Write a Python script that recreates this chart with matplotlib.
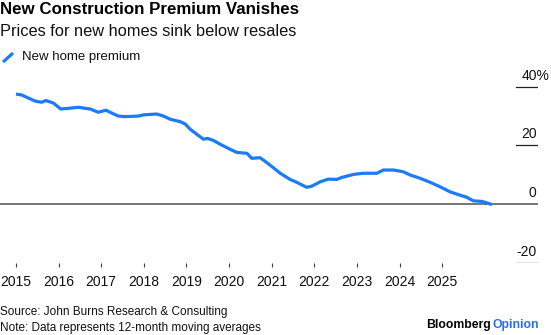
import matplotlib
matplotlib.use("Agg")
import matplotlib.pyplot as plt
import matplotlib.transforms as mtransforms

# New-home premium over resales (%), 12-month moving average
dates = [
    2015.00, 2015.13, 2015.25, 2015.45, 2015.60, 2015.70, 2015.88,
    2016.05, 2016.27, 2016.46, 2016.74, 2016.93,
    2017.11, 2017.25, 2017.40, 2017.56, 2017.87, 2017.99,
    2018.30, 2018.46, 2018.62, 2018.85, 2018.97,
    2019.08, 2019.24, 2019.40, 2019.49, 2019.63, 2019.79,
    2020.02, 2020.18, 2020.42, 2020.53, 2020.73, 2020.96,
    2021.20, 2021.43, 2021.59, 2021.82, 2021.94,
    2022.14, 2022.33, 2022.53, 2022.65, 2022.92,
    2023.15, 2023.31, 2023.47, 2023.62, 2023.86,
    2024.09, 2024.25, 2024.48, 2024.72, 2024.95,
    2025.18, 2025.34, 2025.58, 2025.73, 2025.93, 2026.05, 2026.17,
]
premium = [
    37.5, 37.2, 36.4, 35.1, 34.7, 35.3, 34.4,
    32.4, 32.7, 33.0, 32.4, 31.3,
    32.0, 31.0, 30.0, 29.8, 30.0, 30.4,
    30.7, 30.0, 28.9, 28.1, 27.3,
    25.6, 23.8, 22.1, 22.4, 21.7, 20.4,
    18.7, 17.6, 17.3, 15.6, 15.8, 13.3,
    10.5, 8.4, 7.4, 5.7, 6.1,
    7.6, 8.5, 8.4, 9.1, 10.1,
    10.5, 10.5, 10.5, 11.6, 11.6,
    11.0, 9.9, 8.8, 7.4, 5.9,
    4.2, 3.4, 2.3, 1.1, 0.9, 0.4, -0.2,
]
years = list(range(2015, 2026))
y_ticks = [40, 20, 0, -20]
y_labels = ["40%", "20", "0", "-20"]

BLUE = "#1a7bff"
FONT = "Liberation Sans"

W, H = 551, 335
fig = plt.figure(figsize=(W / 100, H / 100), dpi=100)
fig.patch.set_facecolor("white")

ax = fig.add_axes([0, 1 - 263 / H, 538 / W, (263 - 75) / H])
ax.set_xlim(2014.624, 2027.25)
ax.set_ylim(-20.1, 44.0)

for s in ax.spines.values():
    s.set_visible(False)

# Zero line across the full width, short rules under the other y labels
ax.axhline(0, color="#6b6b6b", lw=1.3, zorder=1)
for v in y_ticks:
    if v != 0:
        ax.axhline(v, xmin=516 / 538, xmax=1, color="#222222", lw=0.9, zorder=1)

ax.plot(dates, premium, color=BLUE, lw=2.3, solid_capstyle="butt",
        solid_joinstyle="round", zorder=3)

ax.set_xticks(years)
ax.set_xticklabels([str(y) for y in years], fontsize=10, family=FONT,
                   color="#111111")
ax.tick_params(axis="x", direction="out", length=3, width=0.8,
               color="#444444", pad=6)
ax.set_yticks([])

# Y labels sit above their rules at the right edge; the percent sign
# hangs past the edge so the numbers stay aligned
trans = mtransforms.blended_transform_factory(ax.transAxes, ax.transData)
for v, lab in zip(y_ticks, y_labels):
    if lab.endswith("%"):
        ax.annotate(lab, xy=(1.0, v), xycoords=trans, xytext=(8.2, 8),
                    textcoords="offset points", ha="right", va="center",
                    fontsize=10, family=FONT, color="#111111")
    else:
        ax.annotate(lab, xy=(1.0, v), xycoords=trans, xytext=(-1, 8),
                    textcoords="offset points", ha="right", va="center",
                    fontsize=10, family=FONT, color="#111111")

# Title block
fig.text(0 / W, 1 - 10 / H, "New Construction Premium Vanishes",
         fontsize=12.2, fontweight="bold", family=FONT, va="center",
         ha="left", color="#000000")
fig.text(0 / W, 1 - 31 / H, "Prices for new homes sink below resales",
         fontsize=11.8, family=FONT, va="center", ha="left",
         color="#111111")

# Legend
fig.add_artist(plt.Line2D([3 / W, 13 / W], [1 - 62 / H, 1 - 53 / H],
                          color=BLUE, lw=2.3, solid_capstyle="butt"))
fig.text(22 / W, 1 - 57 / H, "New home premium", fontsize=9.5,
         family=FONT, va="center", ha="left", color="#111111")

# Footer
fig.text(0, 1 - 312.5 / H, "Source: John Burns Research & Consulting",
         fontsize=8.5, family=FONT, va="center", ha="left", color="#111111")
fig.text(0, 1 - 327.5 / H, "Note: Data represents 12-month moving averages",
         fontsize=8.5, family=FONT, va="center", ha="left", color="#111111")

t1 = fig.text(426 / W, 1 - 325 / H, "Bloomberg", fontsize=8.8,
              fontweight="bold", family=FONT, va="center", ha="left",
              color="#000000")
fig.canvas.draw()
bb = t1.get_window_extent()
fig.text((bb.x1 + 2) / W, 1 - 325 / H, "Opinion", fontsize=8.8,
         fontweight="bold", family=FONT, va="center", ha="left",
         color="#2b6de8")

fig.savefig("out.png", dpi=100, facecolor="white")
